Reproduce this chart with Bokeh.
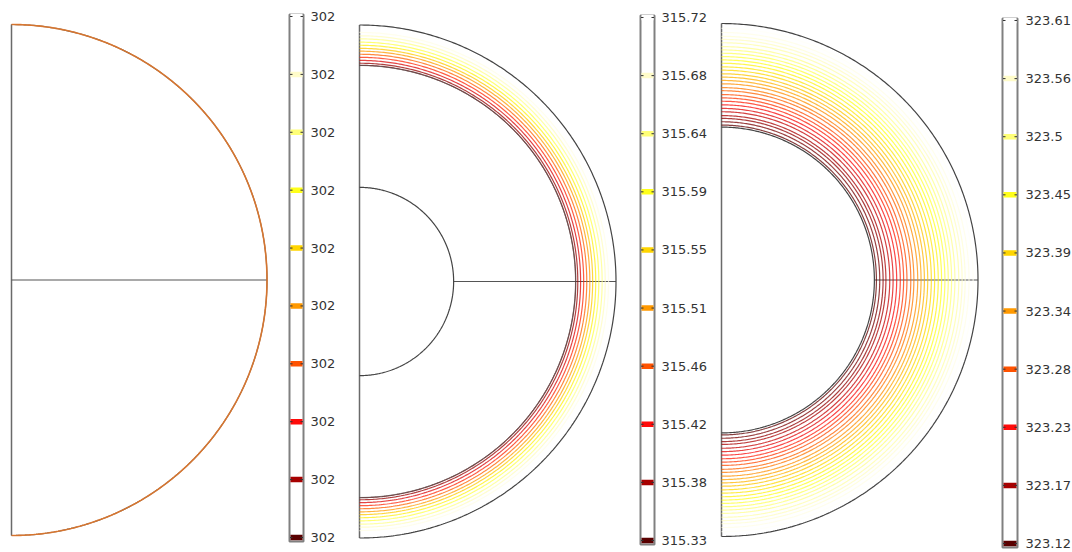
import numpy as np
from bokeh.plotting import figure
from bokeh.layouts import row
from bokeh.models import ColumnDataSource, LinearColorMapper, Range1d
from bokeh.transform import transform
from bokeh.core.properties import value
from bokeh.embed import file_html
from bokeh.resources import INLINE

# ---------------- data ----------------
# colour-bar tick labels, bottom -> top
cb1_labels = ["302", "302", "302", "302", "302", "302", "302", "302", "302", "302"]
cb2_labels = ["315.33", "315.38", "315.42", "315.46", "315.51",
              "315.55", "315.59", "315.64", "315.68", "315.72"]
cb3_labels = ["323.12", "323.17", "323.23", "323.28", "323.34",
              "323.39", "323.45", "323.5", "323.56", "323.61"]
cb2_values = [315.33, 315.38, 315.42, 315.46, 315.51, 315.55, 315.59, 315.64, 315.68, 315.72]
cb3_values = [323.12, 323.17, 323.23, 323.28, 323.34, 323.39, 323.45, 323.50, 323.56, 323.61]

# geometry (radius as fraction of the outer radius)
p2_inner_r = 0.367
p2_shell_r = 0.842
p3_inner_r = 0.596

# isotherms: radius and temperature
p1_contour_r = [1.0]
p2_contour_r = [0.843, 0.851, 0.862, 0.874, 0.886, 0.898, 0.909,
                0.921, 0.933, 0.946, 0.958, 0.971]
p2_contour_level = [315.335, 315.365, 315.400, 315.435, 315.470, 315.505,
                    315.540, 315.575, 315.610, 315.640, 315.670, 315.700]
p3_contour_r = [0.604, 0.617, 0.630, 0.641, 0.656, 0.669, 0.683, 0.697, 0.710,
                0.723, 0.738, 0.750, 0.765, 0.778, 0.791, 0.804, 0.818, 0.831,
                0.845, 0.858, 0.871, 0.884, 0.897, 0.910, 0.925, 0.938, 0.950,
                0.965, 0.981]
p3_contour_level = [323.125, 323.142, 323.159, 323.176, 323.193, 323.210, 323.227,
                    323.244, 323.261, 323.278, 323.295, 323.312, 323.329, 323.346,
                    323.363, 323.380, 323.397, 323.414, 323.431, 323.448, 323.465,
                    323.482, 323.499, 323.516, 323.533, 323.550, 323.567, 323.584,
                    323.601]

# ---------------- styling ----------------
ANCHORS = ["#5a0000", "#a80000", "#ff0a0a", "#ff5200", "#ff9a00",
           "#ffd400", "#ffff1a", "#ffff78", "#fffcc8", "#ffffff"]


def hex2rgb(h):
    return [int(h[i:i + 2], 16) for i in (1, 3, 5)]


def build_palette(anchors, n=256):
    rgb = np.array([hex2rgb(a) for a in anchors], dtype=float)
    pos = np.linspace(0, 1, len(anchors))
    t = np.linspace(0, 1, n)
    out = []
    for i in range(n):
        c = [np.interp(t[i], pos, rgb[:, k]) for k in range(3)]
        out.append("#%02x%02x%02x" % tuple(int(round(v)) for v in c))
    return out


PALETTE = build_palette(ANCHORS)
H = 552
FONT = "DejaVu Sans"
EDGE = "#444444"
theta = np.linspace(-np.pi / 2, np.pi / 2, 361)


def base_fig(w, xr, yr):
    p = figure(width=w, height=H, x_range=Range1d(*xr), y_range=Range1d(*yr),
               x_axis_type=None, y_axis_type=None, min_border=0,
               toolbar_location=None, output_backend="svg",
               outline_line_color=None, background_fill_color="white",
               border_fill_color="white")
    return p


def panel(w, left_px, cy_px, scale, inner_r=None, shell_r=None,
          contour_r=None, contour_level=None, lo=None, hi=None, arc_color=None):
    xr = (-left_px / scale, (w - left_px) / scale)
    yr = (-(H - cy_px) / scale, cy_px / scale)
    p = base_fig(w, xr, yr)
    # left symmetry edge
    p.line([0, 0], [-1, 1], line_color="#6a6a6a", line_width=1.5)
    # horizontal line
    x0 = inner_r if inner_r else 0.0
    p.line([x0, 1.0], [0, 0], line_color="#555555", line_width=1.1)
    # isotherms
    if contour_r is not None and contour_level is not None:
        mapper = LinearColorMapper(palette=PALETTE, low=lo, high=hi)
        src = ColumnDataSource(dict(
            xs=[list(r * np.cos(theta)) for r in contour_r],
            ys=[list(r * np.sin(theta)) for r in contour_r],
            level=contour_level))
        p.multi_line("xs", "ys", source=src,
                     line_color=transform("level", mapper),
                     line_width=1.2, line_alpha=0.75)
    # inner boundaries
    if shell_r:
        p.line(shell_r * np.cos(theta), shell_r * np.sin(theta),
               line_color="#555555", line_width=0.9, line_alpha=0.8)
    if inner_r:
        p.line(inner_r * np.cos(theta), inner_r * np.sin(theta),
               line_color=EDGE, line_width=1.2)
    # outer boundary
    p.line(np.cos(theta), np.sin(theta), line_color=EDGE, line_width=1.2)
    if arc_color is not None:
        for r in contour_r:
            p.line(r * np.cos(theta), r * np.sin(theta),
                   line_color=arc_color, line_width=1.6, line_alpha=0.9)
    return p


def colorbar(w, box_l, box_r, t9, t0, labels, label_x, pad_bot=4):
    s = (t0 - t9) / 9.0
    yr = (-(H - t0) / s, 9 + t9 / s)
    p = base_fig(w, (0, w), yr)
    p.quad(left=[box_l], right=[box_r], bottom=[-pad_bot / s], top=[9 + 2 / s],
           fill_color="white", line_color="#808080", line_width=2)
    idx = list(range(10))
    cols = [PALETTE[int(round(i / 9 * 255))] for i in idx]
    bw = box_r - box_l - 2
    p.rect(x=[(box_l + box_r) / 2] * 10, y=idx, width=bw, height=5.5,
           height_units="screen", fill_color=cols, line_color=None)
    p.segment(x0=[box_l + 0.5] * 10, y0=idx, x1=[box_l + 3] * 10, y1=idx,
              line_color="#333333", line_width=1.0)
    p.segment(x0=[box_r - 3] * 10, y0=idx, x1=[box_r - 0.5] * 10, y1=idx,
              line_color="#333333", line_width=1.0)
    p.text(x=[label_x] * 10, y=idx, text=labels, text_font=value(FONT),
           text_font_size="13px", text_color="#333333",
           text_baseline="middle", text_align="left")
    return p


f1 = panel(281, 11, 279.5, 255.5, contour_r=p1_contour_r, arc_color="#e67a2c")
f2 = colorbar(71, 8, 22, 16, 537, cb1_labels, 29)
f3 = panel(280, 7, 281, 256.5, inner_r=p2_inner_r, shell_r=p2_shell_r,
           contour_r=p2_contour_r, contour_level=p2_contour_level,
           lo=cb2_values[0], hi=cb2_values[-1])
f4 = colorbar(80, 8, 22, 17, 540, cb2_labels, 29)
f5 = panel(282, 9, 279.5, 256.5, inner_r=p3_inner_r,
           contour_r=p3_contour_r, contour_level=p3_contour_level,
           lo=cb3_values[0], hi=cb3_values[-1])
f6 = colorbar(78, 8, 23, 20, 543, cb3_labels, 31)

layout = row(f1, f2, f3, f4, f5, f6)
open("out.html", "w").write(file_html(layout, INLINE))
